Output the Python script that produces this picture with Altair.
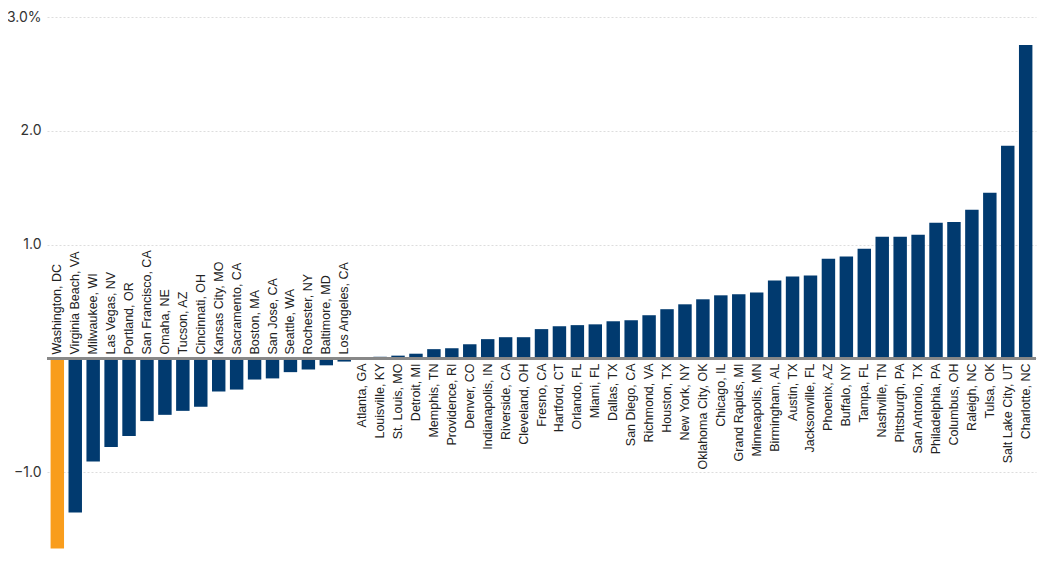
import altair as alt
import pandas as pd

cities = [
    "Washington, DC", "Virginia Beach, VA", "Milwaukee, WI", "Las Vegas, NV", "Portland, OR",
    "San Francisco, CA", "Omaha, NE", "Tucson, AZ", "Cincinnati, OH", "Kansas City, MO",
    "Sacramento, CA", "Boston, MA", "San Jose, CA", "Seattle, WA", "Rochester, NY",
    "Baltimore, MD", "Los Angeles, CA",
    "Atlanta, GA", "Louisville, KY", "St. Louis, MO", "Detroit, MI", "Memphis, TN",
    "Providence, RI", "Denver, CO", "Indianapolis, IN", "Riverside, CA", "Cleveland, OH",
    "Fresno, CA", "Hartford, CT", "Orlando, FL", "Miami, FL", "Dallas, TX", "San Diego, CA",
    "Richmond, VA", "Houston, TX", "New York, NY", "Oklahoma City, OK", "Chicago, IL",
    "Grand Rapids, MI", "Minneapolis, MN", "Birmingham, AL", "Austin, TX", "Jacksonville, FL",
    "Phoenix, AZ", "Buffalo, NY", "Tampa, FL", "Nashville, TN", "Pittsburgh, PA",
    "San Antonio, TX", "Philadelphia, PA", "Columbus, OH", "Raleigh, NC", "Tulsa, OK",
    "Salt Lake City, UT", "Charlotte, NC",
]
values = [
    -1.67, -1.352, -0.905, -0.777, -0.68,
    -0.55, -0.495, -0.46, -0.424, -0.29,
    -0.273, -0.185, -0.175, -0.12, -0.096,
    -0.06, -0.027,
    0.005, 0.015, 0.025, 0.042, 0.082,
    0.09, 0.125, 0.17, 0.187, 0.187,
    0.258, 0.284, 0.293, 0.30, 0.327, 0.336,
    0.38, 0.433, 0.476, 0.52, 0.555,
    0.564, 0.58, 0.685, 0.72, 0.728,
    0.877, 0.895, 0.965, 1.07, 1.07,
    1.088, 1.193, 1.20, 1.307, 1.456,
    1.868, 2.754,
]
highlight = ["Washington, DC"]

df = pd.DataFrame({"city": cities, "value": values})
df["hl"] = df["city"].isin(highlight).map({True: "yes", False: "no"})

x_enc = alt.X("city:N", sort=None, axis=None,
              scale=alt.Scale(paddingInner=0.25, paddingOuter=0.2))

bars = alt.Chart(df).mark_bar().encode(
    x=x_enc,
    y=alt.Y("value:Q",
            scale=alt.Scale(domain=[-1.7, 3.0], nice=False, zero=True),
            axis=alt.Axis(values=[-1, 0, 1, 2, 3], title=None, domain=False, ticks=False,
                          labelExpr="datum.value == 3 ? '3.0%' : (datum.value == 0 ? '' : format(datum.value, '.1f'))",
                          labelFont="Inter", labelFontSize=14, labelColor="#333333", labelPadding=6,
                          grid=True, gridColor="#dddddd", gridDash=[2, 2], gridWidth=1)),
    color=alt.Color("hl:N", legend=None,
                    scale=alt.Scale(domain=["yes", "no"], range=["#F99D1C", "#013A6F"])),
)

zero = alt.Chart(df).mark_rule(color="#888888", strokeWidth=1.5).encode(
    y=alt.datum(0)
)

neg_labels = alt.Chart(df).transform_filter("datum.value < 0").mark_text(
    angle=270, align="left", baseline="middle", dx=4,
    font="Liberation Sans", fontSize=12.5, color="#222222"
).encode(x=x_enc, y=alt.datum(0), text="city:N")

pos_labels = alt.Chart(df).transform_filter("datum.value >= 0").mark_text(
    angle=270, align="right", baseline="middle", dx=-5,
    font="Liberation Sans", fontSize=12.5, color="#222222"
).encode(x=x_enc, y=alt.datum(0), text="city:N")

chart = alt.layer(bars, zero, neg_labels, pos_labels).properties(
    width=989, height=535,
    autosize=alt.AutoSizeParams(type="none"),
    padding={"left": 39, "top": 9, "right": 1, "bottom": 0},
).configure_view(stroke=None)

chart.save("out.html", embed_options={"renderer": "svg", "actions": False})
